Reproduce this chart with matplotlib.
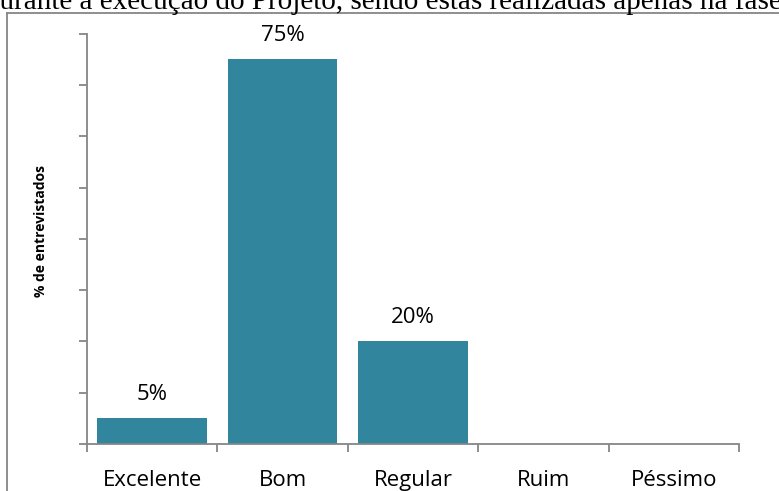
import numpy as np
import matplotlib
matplotlib.use("Agg")
import matplotlib.pyplot as plt
from matplotlib.lines import Line2D

# Avaliação dos entrevistados
categorias = ["Excelente", "Bom", "Regular", "Ruim", "Péssimo"]
percentuais = [0.05, 0.75, 0.20, 0.0, 0.0]
rotulos = ["5%", "75%", "20%", "", ""]

cor_barra = "#31859C"
cor_eixo = "#868686"
fonte = "Open Sans"

W, H = 779, 491
fig = plt.figure(figsize=(W / 100, H / 100), dpi=100)
ax = fig.add_axes([87 / W, 47 / H, (739 - 87) / W, (457.3 - 47) / H])

x = np.arange(len(categorias))
ax.bar(x, percentuais, width=0.84, color=cor_barra, zorder=2)

for xi, v, r in zip(x, percentuais, rotulos):
    if r:
        ax.annotate(r, (xi, v), xytext=(0, 13), textcoords="offset points",
                    ha="center", va="baseline", fontsize=16, family=fonte)

ax.set_xlim(-0.5, len(categorias) - 0.5)
ax.set_ylim(0, 0.8)
ax.set_yticks(np.arange(0, 0.81, 0.1))
ax.set_yticklabels([])
ax.tick_params(axis="y", length=6, width=1.3, color=cor_eixo, direction="out")

# rótulos no centro, marcas entre as categorias
ax.set_xticks(x)
ax.set_xticklabels(categorias, fontsize=16, family=fonte)
ax.set_xticks(np.arange(-0.5, len(categorias)), minor=True)
ax.tick_params(axis="x", which="major", length=0, pad=18.5)
ax.tick_params(axis="x", which="minor", length=6, width=1.3, color=cor_eixo)

for lado in ["top", "right"]:
    ax.spines[lado].set_visible(False)
for lado in ["left", "bottom"]:
    ax.spines[lado].set_color(cor_eixo)
    ax.spines[lado].set_linewidth(1.3)

ax.set_ylabel("% de entrevistados", fontsize=10, fontweight="bold", family=fonte, va="center")
ax.yaxis.set_label_coords(-0.071, 0.52)

# moldura do gráfico
fig.add_artist(Line2D([7 / W, 7 / W], [0, 1 - 12.5 / H], color=cor_eixo, lw=1.3))
fig.add_artist(Line2D([7 / W, 1], [1 - 12.5 / H, 1 - 12.5 / H], color=cor_eixo, lw=1.3))

# texto do documento acima do gráfico
fig.text(-15 / W, 1 - 9 / H, "durante a execução do Projeto, sendo estas realizadas apenas na fase",
         fontsize=21, family="Liberation Serif", va="baseline", ha="left")

fig.savefig("out.png", dpi=100)
